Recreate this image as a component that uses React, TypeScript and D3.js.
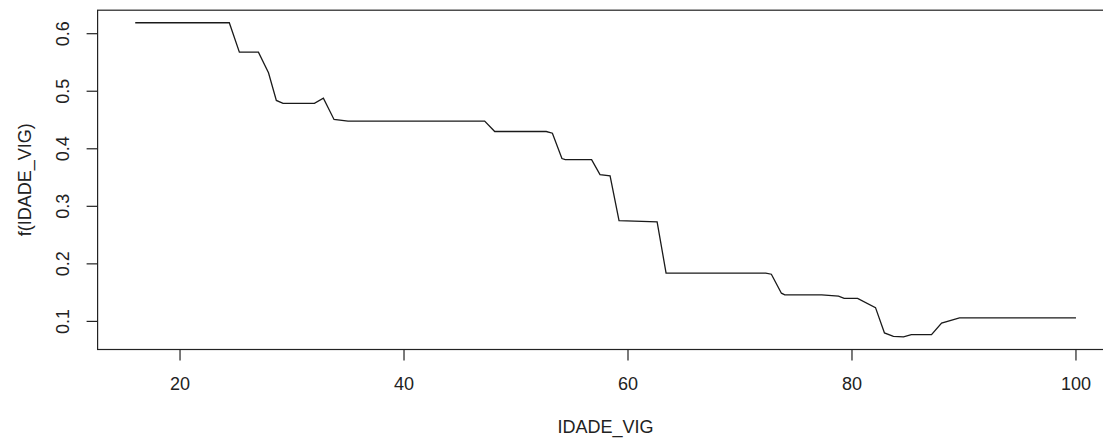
import React from "react";
import * as d3 from "d3";

const ages: number[] = [16, 24.4, 25.3, 27.0, 27.9, 28.6, 29.2, 32.0, 32.8, 33.75, 35.0, 47.2, 48.1, 52.7, 53.25, 54.1, 54.4, 56.75, 57.5, 58.4, 59.2, 62.6, 63.4, 72.3, 72.8, 73.7, 74.0, 77.3, 78.8, 79.3, 80.5, 82.1, 82.9, 83.7, 84.6, 85.3, 87.1, 88.0, 89.6, 100];
const effects: number[] = [0.619, 0.619, 0.568, 0.568, 0.532, 0.484, 0.479, 0.479, 0.488, 0.451, 0.448, 0.448, 0.430, 0.430, 0.427, 0.383, 0.381, 0.381, 0.355, 0.353, 0.275, 0.273, 0.184, 0.184, 0.182, 0.149, 0.146, 0.146, 0.144, 0.140, 0.140, 0.124, 0.080, 0.074, 0.073, 0.077, 0.077, 0.097, 0.106, 0.106];
const xTicks: number[] = [20, 40, 60, 80, 100];
const yTicks: number[] = [0.1, 0.2, 0.3, 0.4, 0.5, 0.6];
const xLabel = "IDADE_VIG";
const yLabel = "f(IDADE_VIG)";

const W = 1103;
const H = 439;
const FONT = "'Liberation Sans', Arial, sans-serif";

export default function App() {
  const xmin = d3.min(ages)!;
  const xmax = d3.max(ages)!;
  const ymin = d3.min(effects)!;
  const ymax = d3.max(effects)!;
  const xr = xmax - xmin;
  const yr = ymax - ymin;
  const x = d3.scaleLinear().domain([xmin - 0.04 * xr, xmax + 0.04 * xr]).range([97.6, 1113.6]);
  const y = d3.scaleLinear().domain([ymin - 0.04 * yr, ymax + 0.04 * yr]).range([349.5, 10.2]);
  const pts: [number, number][] = ages.map((a, i) => [a, effects[i]]);
  const line = d3.line<[number, number]>().x((d) => x(d[0])).y((d) => y(d[1]));
  const [x0, x1] = x.range();
  const [y0, y1] = y.range();
  const tick = 11;
  return (
    <svg width={W} height={H} style={{ position: "absolute", left: 0, top: 0, background: "#fff" }}>
      <rect x={0} y={0} width={W} height={H} fill="#fff" />
      <rect x={x0} y={y1} width={x1 - x0} height={y0 - y1} fill="none" stroke="#222" strokeWidth={1.2} />
      <path d={line(pts) || ""} fill="none" stroke="#1a1a1a" strokeWidth={1.3} />
      {xTicks.map((t) => (
        <g key={"x" + t}>
          <line x1={x(t)} x2={x(t)} y1={y0} y2={y0 + tick} stroke="#222" strokeWidth={1.2} />
          <text x={x(t)} y={390} textAnchor="middle" fontFamily={FONT} fontSize={18} fill="#222">
            {t}
          </text>
        </g>
      ))}
      {yTicks.map((t) => (
        <g key={"y" + t}>
          <line x1={x0} x2={x0 - tick} y1={y(t)} y2={y(t)} stroke="#222" strokeWidth={1.2} />
          <text
            transform={`translate(69,${y(t)}) rotate(-90)`}
            textAnchor="middle"
            fontFamily={FONT}
            fontSize={18}
            fill="#222"
          >
            {t.toFixed(1)}
          </text>
        </g>
      ))}
      <text x={(x0 + x1) / 2} y={433} textAnchor="middle" fontFamily={FONT} fontSize={18} fill="#222">
        {xLabel}
      </text>
      <text
        transform={`translate(31,${(y0 + y1) / 2}) rotate(-90)`}
        textAnchor="middle"
        fontFamily={FONT}
        fontSize={18}
        fill="#222"
      >
        {yLabel}
      </text>
    </svg>
  );
}
